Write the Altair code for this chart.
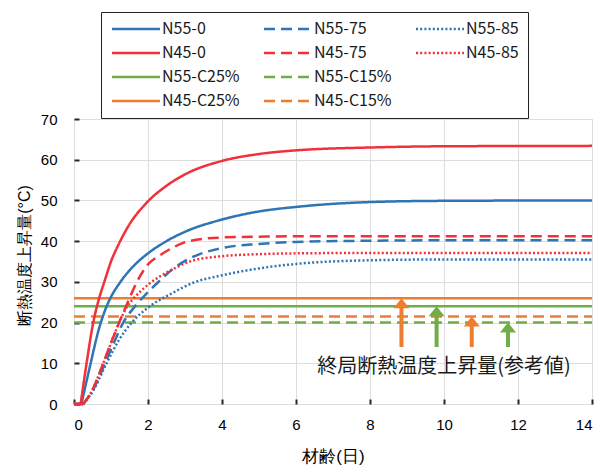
import altair as alt
import pandas as pd

# ---- data (age in days, rise in °C) ----
n45_0_age = [0.18, 0.34, 0.52, 0.68, 0.82, 1.0, 1.2, 1.47, 1.97, 2.5, 3.0, 4.0, 5.0, 6.0, 8.0, 10, 14]
n45_0_val = [0, 10, 20, 26, 30, 35, 39.1, 43.7, 49.5, 53.6, 56.4, 59.7, 61.4, 62.3, 63.0, 63.3, 63.4]

n55_0_age = [0.2, 0.45, 0.66, 0.86, 1.0, 1.24, 1.6, 2.0, 2.5, 3.0, 4.0, 5.0, 6.0, 8.0, 10, 14]
n55_0_val = [0, 10, 18, 23.5, 26.3, 29.8, 33.8, 37, 40, 42.3, 45.3, 47.3, 48.4, 49.6, 49.9, 50]

n45_75_age = [0.25, 0.5, 0.79, 1.0, 1.22, 1.5, 1.69, 2.0, 2.32, 2.65, 3.1, 4.0, 5.0, 6.0, 8.0, 14]
n45_75_val = [0, 3.5, 10, 15, 20, 26, 29.8, 34.3, 36.5, 38.3, 40, 40.9, 41.1, 41.2, 41.2, 41.2]

n45_85_age = [0.25, 0.5, 0.79, 1.0, 1.22, 1.44, 1.62, 2.0, 2.3, 2.65, 3.2, 4.0, 5.0, 6.0, 8.0, 14]
n45_85_val = [0, 3.5, 10, 15, 20, 24, 26, 29.3, 31.2, 33, 35.2, 36.3, 36.8, 37, 37.1, 37.1]

n55_75_age = [0.25, 0.5, 0.84, 1.1, 1.33, 1.65, 2.0, 2.32, 2.65, 3.14, 4.0, 5.0, 6.0, 8.0, 10, 14]
n55_75_val = [0, 3.2, 10, 15.5, 20, 24, 27.5, 30.3, 33, 35.8, 38.3, 39.3, 39.8, 40.1, 40.2, 40.2]

n55_85_age = [0.25, 0.5, 0.88, 1.2, 1.56, 2.05, 2.65, 3.2, 4.0, 5.0, 6.0, 8.0, 10, 14]
n55_85_val = [0, 3, 10, 15.5, 20, 24, 27.2, 29.7, 31.6, 33.3, 34.4, 35.3, 35.5, 35.5]

curve_names = ["N55-0", "N55-75", "N55-85", "N45-0", "N45-75", "N45-85"]
curve_ages = [n55_0_age, n55_75_age, n55_85_age, n45_0_age, n45_75_age, n45_85_age]
curve_vals = [n55_0_val, n55_75_val, n55_85_val, n45_0_val, n45_75_val, n45_85_val]

c_names = ["N55-C25%", "N55-C15%", "N45-C25%", "N45-C15%"]
c_values = [24, 20, 26, 21.5]
c_span = [0, 14]

arrow_age = [8.85, 9.8, 10.75, 11.73]
arrow_tip = [26, 24, 21.5, 20]
arrow_base = [14, 14, 14, 14]
arrow_group = ["N45", "N55", "N45", "N55"]

note_text = ["終局断熱温度上昇量(参考値)"]
note_age = [10.0]
note_val = [9.1]

x_ticks = [0, 2, 4, 6, 8, 10, 12, 14]
y_ticks = [0, 10, 20, 30, 40, 50, 60, 70]

# ---- styles ----
BLUE = "#2e75b6"
RED = "#f2303a"
GREEN = "#70ad47"
ORANGE = "#ed7d31"
SOLID = [1, 0]
DASH = [11, 6]
DOT = [2, 2.2]
FONT = "Noto Sans CJK JP"

# legend is filled column by column (3 columns x 4 rows, two empty cells)
legend_domain = ["N55-0", "N45-0", "N55-C25%", "N45-C25%",
                 "N55-75", "N45-75", "N55-C15%", "N45-C15%",
                 "N55-85", "N45-85", " ", "  "]
legend_colors = [BLUE, RED, GREEN, ORANGE, BLUE, RED, GREEN, ORANGE, BLUE, RED,
                 "transparent", "transparent"]
legend_dashes = [SOLID, SOLID, SOLID, SOLID, DASH, DASH, DASH, DASH, DOT, DOT, SOLID, SOLID]

rows = []
for n, ag, vs in zip(curve_names, curve_ages, curve_vals):
    # flat lead-in from the origin to the start of the rise
    rows.append({"series": n, "seg": "lead", "age": 0, "val": 0})
    rows.append({"series": n, "seg": "lead", "age": ag[0], "val": vs[0]})
    for a, v in zip(ag, vs):
        rows.append({"series": n, "seg": "rise", "age": a, "val": v})
curves = pd.DataFrame(rows)

hlines = pd.DataFrame(
    [{"series": n, "age": a, "val": v}
     for n, v in zip(c_names, c_values) for a in c_span]
)
arrows = pd.DataFrame({"age": arrow_age, "tip": arrow_tip, "base": arrow_base, "grp": arrow_group})
notes = pd.DataFrame({"text": note_text, "age": note_age, "val": note_val})

xscale = alt.Scale(domain=[0, 14], nice=False)
yscale = alt.Scale(domain=[0, 70], nice=False)

xaxis = alt.Axis(title="材齢(日)", values=x_ticks, format="d", grid=True,
                 ticks=True, tickSize=alt.ExprRef("-5"), tickColor="#262626", tickWidth=2,
                 labelPadding=18, labelFontSize=15, titleFontSize=17, titleFontWeight="normal",
                 titleY=52, titleBaseline="middle", domain=False)
yaxis = alt.Axis(title="断熱温度上昇量(°C)", values=y_ticks, format="d", grid=True,
                 ticks=True, tickSize=alt.ExprRef("-5"), tickColor="#262626", tickWidth=2,
                 labelPadding=22, labelFontSize=15, titleFontSize=16, titleFontWeight="normal",
                 titleX=-50, titleY=136, titleAlign="center", titleBaseline="middle", domain=False)

legend = alt.Legend(
    title=None, orient="none", legendX=27, legendY=-107, columns=3,
    symbolType="M-1,0H7", symbolSize=144, symbolStrokeWidth=2.5,
    labelOffset=36, labelFontSize=16, labelFont=FONT, labelColor="#1a1a1a",
    rowPadding=8, columnPadding=19, padding=9,
    strokeColor="#222222", fillColor="white",
)

color_enc = alt.Color("series:N", scale=alt.Scale(domain=legend_domain, range=legend_colors), legend=legend)
dash_enc = alt.StrokeDash("series:N", scale=alt.Scale(domain=legend_domain, range=legend_dashes), legend=legend)

h_layer = alt.Chart(hlines).mark_line(strokeWidth=2.5, strokeCap="butt").encode(
    x=alt.X("age:Q", scale=xscale, axis=xaxis),
    y=alt.Y("val:Q", scale=yscale, axis=yaxis),
    color=color_enc,
    strokeDash=dash_enc,
    detail="series:N",
)

c_layer = alt.Chart(curves).mark_line(strokeWidth=2.5, strokeCap="butt", interpolate="monotone").encode(
    x=alt.X("age:Q", scale=xscale),
    y=alt.Y("val:Q", scale=yscale),
    color=color_enc,
    strokeDash=dash_enc,
    detail=["series:N", "seg:N"],
)


def arrow_layers(grp, col):
    base = alt.Chart(arrows).transform_filter(alt.datum.grp == grp)
    shaft = base.transform_calculate(top="datum.tip - 2").mark_rule(
        strokeWidth=4, color=col, strokeCap="butt"
    ).encode(
        x=alt.X("age:Q", scale=xscale),
        y=alt.Y("base:Q", scale=yscale),
        y2="top:Q",
    )
    head = base.mark_point(
        shape="M0,0L1,1.25L-1,1.25Z", size=256, filled=True, fill=col, color=col, opacity=1, strokeWidth=0
    ).encode(
        x=alt.X("age:Q", scale=xscale),
        y=alt.Y("tip:Q", scale=yscale),
    )
    return shaft + head


note = alt.Chart(notes).mark_text(font=FONT, fontSize=20, color="#1a1a1a").encode(
    x=alt.X("age:Q", scale=xscale),
    y=alt.Y("val:Q", scale=yscale),
    text="text:N",
)

chart = alt.layer(
    h_layer, c_layer,
    arrow_layers("N45", ORANGE), arrow_layers("N55", GREEN),
    note,
).properties(
    width=518, height=285,
    autosize=alt.AutoSizeParams(type="none"),
    padding={"left": 74, "top": 119, "right": 9, "bottom": 62},
).configure_view(
    stroke="#262626", strokeWidth=2,
).configure_axis(
    gridColor="#d9d9d9", gridWidth=1.5, labelFont=FONT, titleFont=FONT,
    labelColor="#1a1a1a", titleColor="#1a1a1a",
).configure(background="white")

chart.save("out.html", embed_options={"renderer": "svg", "actions": False})
